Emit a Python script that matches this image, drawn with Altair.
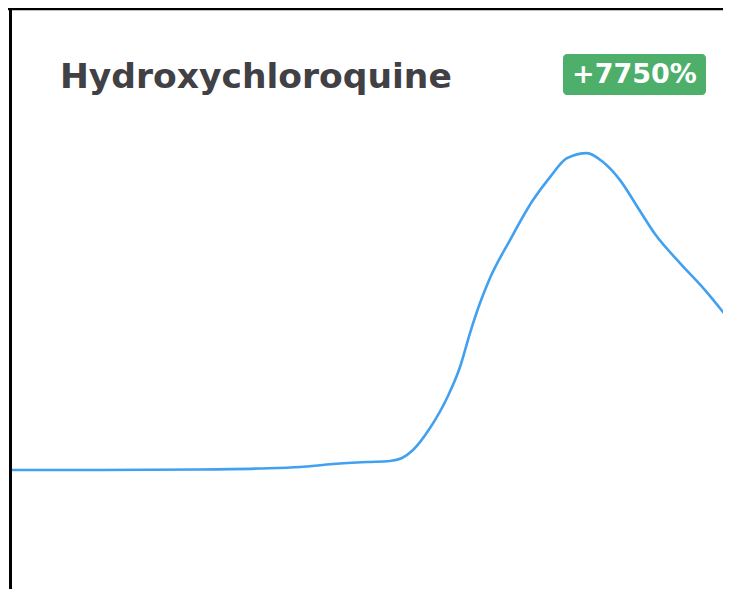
import altair as alt
import pandas as pd

# Search-interest trend (peak = 100)
day = [0, 9, 19, 25, 29, 32.3, 35.7, 38, 39.2, 40.3, 42, 43.7, 45, 46, 47, 48, 50, 52.3,
       54, 55.7, 57.7, 59.3, 61, 63, 64.5, 67, 69.5, 72.1]
interest = [1.27, 1.27, 1.43, 1.74, 2.20, 3.14, 3.76, 4.07, 5.01, 7.50, 14.35, 23.69, 33.35,
            43.94, 53.28, 61.07, 72.91, 85.36, 92.52, 98.44, 100.0, 97.20, 91.59, 81.94,
            74.77, 65.74, 57.33, 47.36]

title_text = ["Hydroxychloroquine"]
badge_text = ["+7750%"]

W, H = 715, 581

df = pd.DataFrame({"day": day, "interest": interest})

line = alt.Chart(df).mark_line(
    color="#42a0f0", strokeWidth=2.6, interpolate="monotone", clip=True
).encode(
    x=alt.X("day:Q", axis=None, scale=alt.Scale(domain=[-0.2, 71.3], nice=False, zero=False)),
    y=alt.Y("interest:Q", axis=None, scale=alt.Scale(domain=[-35.8, 145.2], nice=False, zero=False)),
)

one = pd.DataFrame({"k": [0]})
left_border = alt.Chart(one).mark_rule(color="#000000", strokeWidth=3).encode(
    x=alt.value(2.5), y=alt.value(0), y2=alt.value(H)
)
top_border = alt.Chart(one).mark_rule(color="#000000", strokeWidth=2.5).encode(
    x=alt.value(0), x2=alt.value(W), y=alt.value(1)
)

title = alt.Chart(pd.DataFrame({"t": title_text})).mark_text(
    align="left", baseline="alphabetic", font="DejaVu Sans", fontWeight="bold",
    fontSize=34.5, color="#404045"
).encode(x=alt.value(52), y=alt.value(80), text="t:N")

badge_bg = alt.Chart(pd.DataFrame({"t": badge_text})).mark_rect(
    color="#4daf6a", cornerRadius=4
).encode(x=alt.value(555), x2=alt.value(698), y=alt.value(46), y2=alt.value(87))

badge = alt.Chart(pd.DataFrame({"t": badge_text})).mark_text(
    align="center", baseline="middle", font="DejaVu Sans", fontWeight="bold",
    fontSize=27, color="#ffffff"
).encode(x=alt.value(626.5), y=alt.value(67), text="t:N")

chart = alt.layer(line, left_border, top_border, title, badge_bg, badge).properties(
    width=W, height=H, padding=0, autosize=alt.AutoSizeParams(type="none"), background="#ffffff"
).configure_view(stroke=None)

chart.save("out.html", embed_options={"renderer": "svg", "actions": False})
